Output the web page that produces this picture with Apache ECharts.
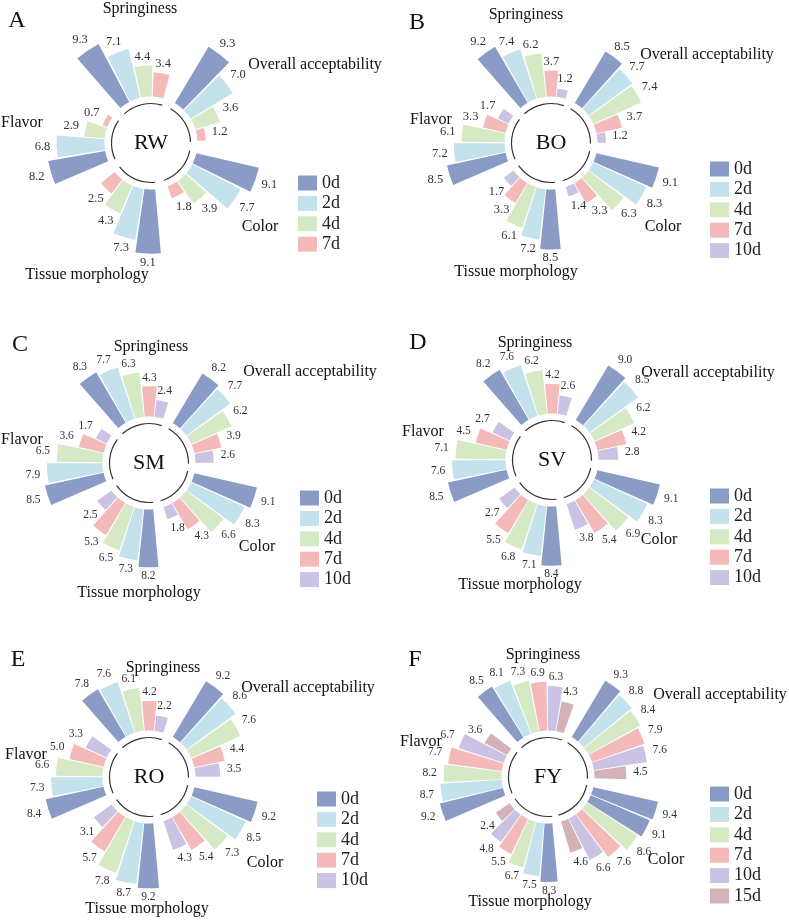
<!DOCTYPE html>
<html>
<head>
<meta charset="utf-8">
<script src="https://cdn.jsdelivr.net/npm/echarts@6/dist/echarts.min.js"></script>
<style>
html,body{margin:0;padding:0;background:#fff;}
#chart{width:789px;height:920px;}
</style>
</head>
<body>
<div id="chart"></div>
<script>
// ---------------- DATA ----------------
const groups = ['Springiness', 'Overall acceptability', 'Color', 'Tissue morphology', 'Flavor'];
const days4 = ['0d', '2d', '4d', '7d'];
const days5 = ['0d', '2d', '4d', '7d', '10d'];
const days6 = ['0d', '2d', '4d', '7d', '10d', '15d'];
const panelNames = ['RW', 'BO', 'SM', 'SV', 'RO', 'FY'];
const panelLetters = ['A', 'B', 'C', 'D', 'E', 'F'];

// rows follow `groups`, columns follow the day list
const rwValues = [
  [9.3, 7.1, 4.4, 3.4],
  [9.3, 7.0, 3.6, 1.2],
  [9.1, 7.7, 3.9, 1.8],
  [9.1, 7.3, 4.3, 2.5],
  [8.2, 6.8, 2.9, 0.7]
];
const boValues = [
  [9.2, 7.4, 6.2, 3.7, 1.2],
  [8.5, 7.7, 7.4, 3.7, 1.2],
  [9.1, 8.3, 6.3, 3.3, 1.4],
  [8.5, 7.2, 6.1, 3.3, 1.7],
  [8.5, 7.2, 6.1, 3.3, 1.7]
];
const smValues = [
  [8.3, 7.7, 6.3, 4.3, 2.4],
  [8.2, 7.7, 6.2, 3.9, 2.6],
  [9.1, 8.3, 6.6, 4.3, 1.8],
  [8.2, 7.3, 6.5, 5.3, 2.5],
  [8.5, 7.9, 6.5, 3.6, 1.7]
];
const svValues = [
  [8.2, 7.6, 6.2, 4.2, 2.6],
  [9.0, 8.5, 6.2, 4.2, 2.8],
  [9.1, 8.3, 6.9, 5.4, 3.8],
  [8.4, 7.1, 6.8, 5.5, 2.7],
  [8.5, 7.6, 7.1, 4.5, 2.7]
];
const roValues = [
  [7.8, 7.6, 6.1, 4.2, 2.2],
  [9.2, 8.6, 7.6, 4.4, 3.5],
  [9.2, 8.5, 7.3, 5.4, 4.3],
  [9.2, 8.7, 7.8, 5.7, 3.1],
  [8.4, 7.3, 6.6, 5.0, 3.3]
];
const fyValues = [
  [8.5, 8.1, 7.3, 6.9, 6.3, 4.3],
  [9.3, 8.8, 8.4, 7.9, 7.6, 4.5],
  [9.4, 9.1, 8.6, 7.6, 6.6, 4.6],
  [8.3, 7.5, 6.7, 5.5, 4.8, 2.4],
  [9.2, 8.7, 8.2, 7.7, 6.7, 3.6]
];

// ---------------- STYLE / LAYOUT ----------------
const FONT = '"Liberation Serif", "Times New Roman", serif';
const dayColors = {
  '0d': '#8A9CC5', '2d': '#C3E2EC', '4d': '#D5E9C4',
  '7d': '#F4BABA', '10d': '#CBC2E4', '15d': '#D4B2B7'
};
const GROUP_START = -41.7;        // degrees clockwise from 12 o'clock
const R_IN = 46.5, R_OUT = 117, RADIUS_MAX = 10, CIRCLE_R = 39.5;

// labelPos order follows `groups`: Springiness, Overall acceptability, Color, Tissue morphology, Flavor
const panels = [
  { name: panelNames[0], letter: panelLetters[0], days: days4, values: rwValues,
    center: [151, 143], letterPos: [17, 21], legend: [293, 169], valFont: 12.5,
    labelPos: [[140, 9], [315, 65], [260, 227], [87, 275], [22, 123]] },
  { name: panelNames[1], letter: panelLetters[1], days: days5, values: boValues,
    center: [551, 143], letterPos: [417, 23], legend: [705, 155], valFont: 12.5,
    labelPos: [[526, 15], [707, 55], [663, 227], [516, 272], [431, 120]] },
  { name: panelNames[2], letter: panelLetters[2], days: days5, values: smValues,
    center: [149, 463], letterPos: [20, 345], legend: [295, 484], valFont: 11.5,
    labelPos: [[151, 347], [310, 372], [257, 547], [139, 593], [22, 440]] },
  { name: panelNames[3], letter: panelLetters[3], days: days5, values: svValues,
    center: [552, 460], letterPos: [418, 343], legend: [705, 482], valFont: 11.5,
    labelPos: [[535, 343], [708, 373], [659, 540], [520, 585], [423, 432]] },
  { name: panelNames[4], letter: panelLetters[4], days: days5, values: roValues,
    center: [149, 777], letterPos: [18, 660], legend: [312, 785], valFont: 11.5,
    labelPos: [[163, 668], [308, 688], [265, 863], [147, 909], [26, 755]] },
  { name: panelNames[5], letter: panelLetters[5], days: days6, values: fyValues,
    center: [548, 777], letterPos: [415, 660], legend: [705, 780], valFont: 11.5,
    labelPos: [[543, 655], [720, 695], [666, 860], [530, 902], [421, 742]] }
];
// In panel F the 2d bar of "Color" is drawn in the 0d colour in the original figure
const colorOverride = { panel: 5, group: 2, day: 1, color: dayColors['0d'] };

// ---------------- BUILD OPTION ----------------
const polar = [], angleAxis = [], radiusAxis = [], series = [], legend = [], graphic = [];

panels.forEach((p, pi) => {
  const N = p.days.length, S = N + 1, T = groups.length * S, band = 360 / T;
  polar.push({ center: p.center, radius: [R_IN, R_OUT] });
  angleAxis.push({
    polarIndex: pi, type: 'category',
    data: Array.from({ length: T }, (_, i) => String(i)),
    startAngle: 90 - GROUP_START, clockwise: true,
    axisLine: { show: false }, axisTick: { show: false },
    axisLabel: { show: false }, splitLine: { show: false }
  });
  radiusAxis.push({
    polarIndex: pi, type: 'value', min: 0, max: RADIUS_MAX,
    axisLine: { show: false }, axisTick: { show: false },
    axisLabel: { show: false }, splitLine: { show: false }
  });

  p.days.forEach((d, k) => {
    const arr = new Array(T).fill('-');
    p.values.forEach((row, g) => {
      const v = row[k];
      if (colorOverride.panel === pi && colorOverride.group === g && colorOverride.day === k) {
        arr[g * S + k] = { value: v, itemStyle: { color: colorOverride.color } };
      } else {
        arr[g * S + k] = v;
      }
    });
    series.push({
      type: 'bar', name: d, coordinateSystem: 'polar', polarIndex: pi,
      data: arr, barGap: '-100%', barCategoryGap: '8%',
      itemStyle: { color: dayColors[d] }, silent: true, animation: false
    });
  });

  // value labels (positioned from the polar scale)
  const labelData = [];
  p.values.forEach((row, g) => row.forEach((v, k) => labelData.push([v, g * S + k])));
  const fs = p.valFont;
  series.push({
    type: 'custom', coordinateSystem: 'polar', polarIndex: pi,
    data: labelData, encode: { radius: 0, angle: 1 }, silent: true, animation: false,
    renderItem: (params, api) => {
      const v = api.value(0), slot = api.value(1);
      const end = api.coord([v, slot]);
      const base = api.coord([0, slot]);
      let dx = end[0] - base[0], dy = end[1] - base[1];
      const len = Math.hypot(dx, dy) || 1;
      dx /= len; dy /= len;
      const off = 4 + Math.abs(dx) * 10 + Math.abs(dy) * 4.5;
      return {
        type: 'text', x: end[0] + dx * off, y: end[1] + dy * off, silent: true,
        style: {
          text: v.toFixed(1), fill: '#333', font: fs + 'px ' + FONT,
          align: 'center', verticalAlign: 'middle'
        }
      };
    }
  });

  // inner broken circle
  series.push({
    type: 'pie', center: p.center, radius: [CIRCLE_R - 0.6, CIRCLE_R + 0.6],
    startAngle: 90 - (GROUP_START + (S - 0.5) * band), padAngle: band * 0.9,
    data: groups.map(g => ({ value: 1, name: 'ring-' + g })),
    label: { show: false }, labelLine: { show: false }, silent: true, animation: false,
    itemStyle: { color: '#333', borderWidth: 0 }, emphasis: { disabled: true }
  });

  legend.push({
    data: p.days, orient: 'vertical', left: p.legend[0], top: p.legend[1],
    icon: 'rect', itemWidth: 19, itemHeight: 15, itemGap: 2.4, selectedMode: false,
    textStyle: { fontFamily: FONT, fontSize: 18, lineHeight: 16, color: '#222' }
  });

  graphic.push({
    type: 'text', x: p.letterPos[0], y: p.letterPos[1],
    style: { text: p.letter, font: '24px ' + FONT, fill: '#111', align: 'center', verticalAlign: 'middle' }
  });
  graphic.push({
    type: 'text', x: p.center[0], y: p.center[1],
    style: { text: p.name, font: '22px ' + FONT, fill: '#111', align: 'center', verticalAlign: 'middle' }
  });
  groups.forEach((g, gi) => {
    graphic.push({
      type: 'text', x: p.labelPos[gi][0], y: p.labelPos[gi][1],
      style: { text: g, font: '16px ' + FONT, fill: '#111', align: 'center', verticalAlign: 'middle' }
    });
  });
});

const chart = echarts.init(document.getElementById('chart'), null, { renderer: 'canvas' });
chart.setOption({
  backgroundColor: '#fff',
  animation: false,
  textStyle: { fontFamily: FONT },
  polar, angleAxis, radiusAxis, legend, series, graphic
});
</script>
</body>
</html>
